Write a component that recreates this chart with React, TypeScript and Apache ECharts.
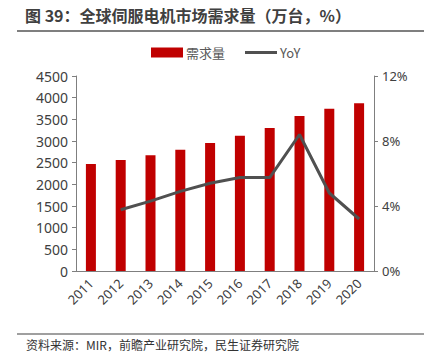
import React, { useEffect, useRef } from "react";
import * as echarts from "echarts";

const years = ["2011", "2012", "2013", "2014", "2015", "2016", "2017", "2018", "2019", "2020"];
const demand = [2470, 2562, 2670, 2800, 2954, 3123, 3300, 3577, 3746, 3869];
const yoy = [null, 3.77, 4.3, 4.9, 5.4, 5.75, 5.75, 8.4, 4.8, 3.2];
const leftTicks = [0, 500, 1000, 1500, 2000, 2500, 3000, 3500, 4000, 4500];
const rightTicks = [0, 4, 8, 12];

const titleText = "图 39：全球伺服电机市场需求量（万台，%）";
const sourceText = "资料来源：MIR，前瞻产业研究院，民生证券研究院";

export default function App() {
  const ref = useRef<HTMLDivElement>(null);
  useEffect(() => {
    if (!ref.current) return;
    const chart = echarts.init(ref.current, null, { renderer: "svg" });
    const font = "'Noto Sans CJK SC', 'Noto Sans', sans-serif";
    const numFont = "'Noto Sans', sans-serif";
    chart.setOption({
      animation: false,
      textStyle: { fontFamily: font },
      graphic: [
        {
          type: "text",
          left: 25,
          top: 7,
          style: { text: titleText, font: `bold 16px ${font}`, fill: "#404040" },
        },
        {
          type: "line",
          shape: { x1: 17, y1: 31, x2: 424, y2: 31 },
          style: { stroke: "#7f7f7f", lineWidth: 2 },
        },
        {
          type: "line",
          shape: { x1: 17, y1: 334, x2: 424, y2: 334 },
          style: { stroke: "#7f7f7f", lineWidth: 1.5 },
        },
        {
          type: "text",
          left: 26,
          top: 338,
          style: { text: sourceText, font: `12px ${font}`, fill: "#333" },
        },
      ],
      legend: {
        top: 41,
        left: 146,
        itemGap: 20,
        itemWidth: 32,
        itemHeight: 10,
        textStyle: { fontSize: 13, color: "#595959", fontFamily: font, padding: [0, 0, 0, -2] },
        data: [
          { name: "需求量", icon: "rect" },
          { name: "YoY", icon: "path://M0,0 L32,0 L32,3 L0,3 Z", itemStyle: { color: "#505050" } },
        ],
      },
      grid: { left: 76, right: 56, top: 76, bottom: 81 },
      xAxis: {
        type: "category",
        data: years,
        axisLine: { lineStyle: { color: "#7f7f7f" } },
        axisTick: { show: false },
        axisLabel: { rotate: 45, color: "#404040", fontSize: 13, margin: 10, fontFamily: numFont },
      },
      yAxis: [
        {
          type: "value",
          min: leftTicks[0],
          max: leftTicks[leftTicks.length - 1],
          interval: 500,
          splitLine: { show: false },
          axisLine: { show: true, lineStyle: { color: "#7f7f7f" } },
          axisTick: { show: true, length: 4, lineStyle: { color: "#7f7f7f" } },
          axisLabel: {
            color: "#404040",
            fontSize: 14,
            margin: 8,
            fontFamily: numFont,
            formatter: (v: number) => String(v),
          },
        },
        {
          type: "value",
          min: rightTicks[0],
          max: rightTicks[rightTicks.length - 1],
          interval: 4,
          splitLine: { show: false },
          axisLine: { show: true, lineStyle: { color: "#7f7f7f" } },
          axisTick: { show: true, length: 4, lineStyle: { color: "#7f7f7f" } },
          axisLabel: { color: "#404040", fontSize: 13, margin: 8, formatter: "{value}%", fontFamily: numFont },
        },
      ],
      series: [
        {
          name: "需求量",
          type: "bar",
          data: demand,
          barWidth: 10,
          itemStyle: { color: "#C00000" },
        },
        {
          name: "YoY",
          type: "line",
          yAxisIndex: 1,
          data: yoy,
          symbol: "none",
          lineStyle: { color: "#505050", width: 3 },
          itemStyle: { color: "#505050" },
        },
      ],
    });
    return () => chart.dispose();
  }, []);
  return <div ref={ref} style={{ width: 430, height: 352, position: "absolute", left: 0, top: 0 }} />;
}
